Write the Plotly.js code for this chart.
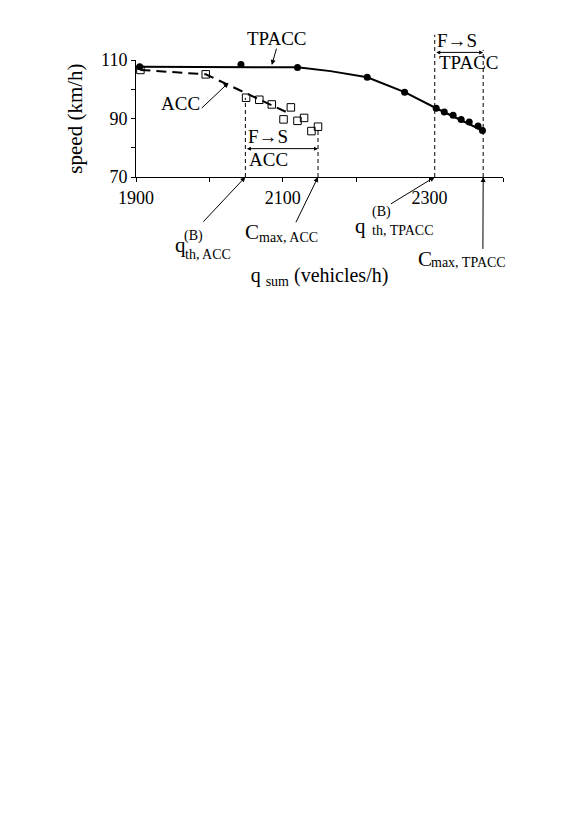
<!DOCTYPE html>
<html>
<head>
<meta charset="utf-8">
<script src="https://cdn.plot.ly/plotly-3.0.1.min.js"></script>
<style>html,body{margin:0;padding:0;background:#fff;}#chart{width:579px;height:818px;}</style>
</head>
<body>
<div id="chart"></div>
<script>
// ---- data ----
var tpaccX = [1905, 2043, 2120, 2215, 2266, 2309, 2320, 2332, 2343, 2354, 2366, 2372];
var tpaccY = [107.7, 108.5, 107.4, 104.1, 99.0, 93.5, 92.2, 91.1, 89.7, 88.8, 87.4, 85.9];
var tpaccLineX = [1905, 2120, 2165, 2215, 2266, 2309, 2372];
var tpaccLineY = [107.7, 107.5, 106.2, 104.1, 99.0, 93.5, 85.9];
var accX = [1906, 1995, 2050, 2068, 2085, 2111, 2101, 2120, 2129, 2139, 2148];
var accY = [106.6, 105.1, 97.1, 96.4, 94.8, 93.8, 89.7, 89.2, 90.2, 85.7, 87.2];
var accLineX = [1906, 1995, 2104];
var accLineY = [106.6, 105.1, 92.3];
var thresholdX = [2049, 2148, 2307, 2373];       // q_th,ACC, C_max,ACC, q_th,TPACC, C_max,TPACC
var thresholdTop = [97.1, 86.5, 118.6, 113.4];
var xTickVals = [1900, 2000, 2100, 2200, 2300, 2400];
var xTickText = ['1900', '', '2100', '', '2300', ''];
var yTickVals = [70, 80, 90, 100, 110];
var yTickText = ['70', '', '90', '', '110'];
var xMin = 1900, xMax = 2400, yMin = 70, yMax = 110;

var FONT = 'Liberation Serif, Times New Roman, serif';
var M = {l: 136, r: 76, t: 60, b: 641};
var W = 579, H = 818;
var kx = (W - M.l - M.r) / (xMax - xMin);
var ky = (H - M.t - M.b) / (yMax - yMin);

var traces = [
  {x: tpaccLineX, y: tpaccLineY, mode: 'lines', line: {color: '#000', width: 2}, hoverinfo: 'skip'},
  {x: accLineX, y: accLineY, mode: 'lines', line: {color: '#000', width: 2, dash: '10px,6px'}, hoverinfo: 'skip'},
  {x: accX, y: accY, mode: 'markers', cliponaxis: false,
   marker: {symbol: 'square-open', size: 7.5, color: '#000', line: {width: 1, color: '#000'}}},
  {x: tpaccX, y: tpaccY, mode: 'markers', cliponaxis: false,
   marker: {symbol: 'circle', size: 7, color: '#000'}}
];

function yp(v) { return (v - yMin) / (yMax - yMin); }
var shapes = thresholdX.map(function (xv, i) {
  return {type: 'line', xref: 'x', yref: 'paper', x0: xv, x1: xv, y0: 0, y1: yp(thresholdTop[i]),
          line: {color: '#000', width: 1, dash: '4px,3px'}};
});

function txt(t, x, y, size, anchor) {
  return {text: t, x: x, y: yp(y), xref: 'x', yref: 'paper', showarrow: false,
          xanchor: anchor || 'center', yanchor: 'middle', borderpad: 0,
          font: {family: FONT, size: size, color: '#000'}};
}
function arr(x0, y0, x1, y1, both) {
  return {text: '', x: x1, y: yp(y1), xref: 'x', yref: 'paper', axref: 'pixel', ayref: 'pixel',
          ax: (x0 - x1) * kx, ay: -(y0 - y1) * ky,
          showarrow: true, arrowhead: 2, arrowsize: both ? 0.8 : 1, arrowwidth: 1, arrowcolor: '#000',
          arrowside: both ? 'end+start' : 'end', standoff: 0, startstandoff: 0};
}

var annotations = [
  txt('TPACC', 2092, 117.4, 19), arr(2092, 114.4, 2085, 108.3),
  txt('ACC', 1960, 95.2, 19), arr(1987.5, 93.1, 2026, 102.2),
  txt('F\u2192S', 2080.5, 83.7, 19), arr(thresholdX[0], 79.7, thresholdX[1], 79.7, true), txt('ACC', 2080.5, 76.0, 19),
  txt('F\u2192S', 2338, 116.6, 19), arr(thresholdX[2], 112.6, thresholdX[3], 112.6, true), txt('TPACC', 2353.4, 109.1, 19),
  // q_th,ACC
  txt('q', 1960.3, 46.6, 21), txt('(B)', 1964.5, 50.0, 14, 'left'), txt('th, ACC', 1965.5, 43.5, 14, 'left'),
  arr(1989.8, 54.2, thresholdX[0], yMin),
  // C_max,ACC
  txt('C', 2057.9, 51.1, 21), txt('max, ACC', 2066.5, 49.4, 14, 'left'),
  arr(2116.9, 54.0, thresholdX[1], yMin),
  // q_th,TPACC
  txt('q', 2206.4, 53.4, 21), txt('(B)', 2219.5, 58.0, 14, 'left'), txt('th, TPACC', 2219.5, 51.7, 14, 'left'),
  arr(2245.2, 60.5, thresholdX[2], yMin),
  // C_max,TPACC
  txt('C', 2293.1, 42.0, 21), txt('max, TPACC', 2300.5, 40.9, 14, 'left'),
  arr(2372.6, 44.9, thresholdX[3], yMin)
];

var layout = {
  width: W, height: H,
  margin: M,
  paper_bgcolor: '#fff', plot_bgcolor: '#fff',
  showlegend: false,
  font: {family: FONT, size: 18, color: '#000'},
  xaxis: {
    range: [xMin, xMax], tickvals: xTickVals, ticktext: xTickText,
    showline: true, linecolor: '#000', linewidth: 1, ticks: 'outside', ticklen: 4, tickcolor: '#000',
    showgrid: false, zeroline: false, tickfont: {family: FONT, size: 18, color: '#000'},
    title: {text: 'q <sub>sum</sub> (vehicles/h)', font: {family: FONT, size: 20, color: '#000'}, standoff: 61},
    automargin: false
  },
  yaxis: {
    range: [yMin, yMax], tickvals: yTickVals, ticktext: yTickText,
    showline: true, linecolor: '#000', linewidth: 1, ticks: 'outside', ticklen: 4, tickcolor: '#000',
    showgrid: false, zeroline: false, tickfont: {family: FONT, size: 18, color: '#000'},
    title: {text: 'speed (km/h)', font: {family: FONT, size: 21, color: '#000'}, standoff: 12},
    automargin: false
  },
  shapes: shapes,
  annotations: annotations
};

Plotly.newPlot('chart', traces, layout, {displayModeBar: false, staticPlot: true});
</script>
</body>
</html>
